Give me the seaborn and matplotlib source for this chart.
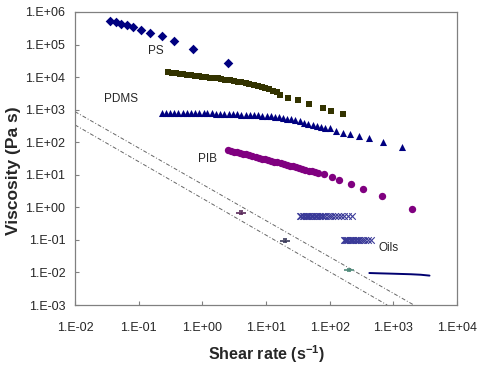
import matplotlib
matplotlib.use("Agg")
import matplotlib.pyplot as plt
import matplotlib.ticker as mticker
import seaborn as sns
import numpy as np

# ---------------- data ----------------
ps_x = [0.0355, 0.0436, 0.0527, 0.0648, 0.0824, 0.109, 0.151, 0.230, 0.363, 0.722, 2.50]
ps_y = [541000, 483000, 429000, 399000, 339000, 280000, 231000, 183000, 129000, 74800, 27700]

pdms_hi_x = [0.29, 0.33, 0.38, 0.44, 0.50, 0.58, 0.67, 0.77, 0.89, 1.0, 1.15, 1.3, 1.5,
             1.75, 2.0, 2.3, 2.7, 3.1, 3.6, 4.1, 4.8, 5.5, 6.4, 7.4, 8.5, 9.8, 11.3,
             13.0, 15.0, 16.6, 22.4, 31.5, 47.9, 79.4, 104, 160]
pdms_hi_y = [14000, 13500, 13000, 12600, 12200, 11800, 11400, 11000, 10600, 10300,
             10000, 9700, 9400, 9100, 8800, 8400, 8000, 7600, 7200, 6900, 6600, 6200,
             5800, 5400, 5000, 4600, 4200, 3800, 3400, 2890, 2340, 1990, 1500, 1130,
             894, 722]

pdms_lo_x = [0.23, 0.27, 0.31, 0.36, 0.42, 0.49, 0.57, 0.66, 0.77, 0.9, 1.05, 1.2, 1.4,
             1.65, 1.9, 2.2, 2.6, 3.0, 3.5, 4.1, 4.8, 5.6, 6.5, 7.6, 8.8, 10.2, 11.9,
             13.8, 16, 18.6, 21.6, 25, 29, 34, 40, 46, 54, 63, 73, 85,
             101, 128, 162, 212, 286, 418, 676, 1370]
pdms_lo_y = [790, 800, 805, 805, 805, 800, 800, 795, 790, 785, 780, 775, 770,
             760, 750, 745, 735, 725, 715, 705, 695, 685, 675, 665, 655, 645, 630,
             610, 585, 560, 530, 500, 470, 435, 400, 370, 345, 320, 300, 282,
             265, 222, 193, 177, 156, 133, 100, 73]

pib_x = [2.5, 2.8, 3.1, 3.5, 3.9, 4.4, 4.9, 5.5, 6.1, 6.9, 7.7, 8.6, 9.6, 10.8, 12.1,
         13.5, 15.1, 16.9, 18.9, 21.2, 23.7, 26.5, 29.7, 33.2, 37.2, 41.6, 46.6, 52.1,
         58.3, 65, 82.4, 108, 142, 214, 337, 656, 1990]
pib_y = [57, 54, 51.5, 49, 46.5, 44, 42, 39.5, 37.5, 35.5, 33.5, 31.5, 30, 28.5, 27,
         25.5, 24, 22.7, 21.5, 20.3, 19.2, 18.1, 17.1, 16.1, 15.2, 14.3, 13.5, 12.7,
         12.0, 11.3, 10.4, 8.77, 6.95, 5.35, 3.76, 2.24, 0.91]

oil1_x = [34, 36, 38, 40, 42, 44, 46, 48, 50, 52.5, 55, 58, 61, 64, 67, 71, 75, 80,
          86, 93, 101, 110, 121, 134, 150, 170, 195, 225]
oil1_y = [0.53] * len(oil1_x)

oil2_x = [165, 172, 180, 188, 196, 205, 214, 224, 235, 247, 260, 275, 292, 312, 335,
          362, 395, 440]
oil2_y = [0.10] * len(oil2_x)

oil3_x = [420, 600, 900, 1300, 1900, 2700, 3700]
oil3_y = [0.0096, 0.0094, 0.0092, 0.0090, 0.0088, 0.0085, 0.0080]

err_x = [4.0, 20.0, 200.0]
err_y = [0.69, 0.095, 0.012]
err_colors = ["#5a2a5a", "#3a3a5a", "#4f8a7a"]

lim1_x = [0.01, 2100]
lim1_y = [870, 0.001]
lim2_x = [0.01, 800]
lim2_y = [340, 0.001]

labels = ["PS", "PDMS", "PIB", "Oils"]
label_x = [0.139, 0.0288, 0.864, 581]
label_y = [6.3e4, 2.16e3, 2.96e1, 5.68e-2]

x_ticks = [1e-2, 1e-1, 1e0, 1e1, 1e2, 1e3, 1e4]
y_ticks = [1e-3, 1e-2, 1e-1, 1e0, 1e1, 1e2, 1e3, 1e4, 1e5, 1e6]

# ---------------- plot ----------------
sns.set_style("white")
plt.rcParams["font.family"] = ["Liberation Sans", "DejaVu Sans"]

fig = plt.figure(figsize=(4.8, 3.67), dpi=100)
ax = fig.add_axes([75 / 480, 1 - 305 / 367, 382 / 480, 293 / 367])

sns.lineplot(x=lim1_x, y=lim1_y, ax=ax, color="#666666", lw=0.7, linestyle=(0, (4, 2, 1, 2)))
sns.lineplot(x=lim2_x, y=lim2_y, ax=ax, color="#666666", lw=0.7, linestyle=(0, (4, 2, 1, 2)))

sns.scatterplot(x=ps_x, y=ps_y, ax=ax, marker="D", s=24, color="#000080", linewidth=0)
sns.scatterplot(x=pdms_hi_x, y=pdms_hi_y, ax=ax, marker="s", s=24, color="#333300", linewidth=0)
sns.scatterplot(x=pdms_lo_x, y=pdms_lo_y, ax=ax, marker="^", s=26, color="#000080", linewidth=0)
sns.scatterplot(x=pib_x, y=pib_y, ax=ax, marker="o", s=28, color="#800080", linewidth=0)
sns.scatterplot(x=oil1_x, y=oil1_y, ax=ax, marker="x", s=22, color="#3a3a98", linewidth=0.8)
sns.scatterplot(x=oil2_x, y=oil2_y, ax=ax, marker="x", s=22, color="#3a3a98", linewidth=0.8)
sns.lineplot(x=oil3_x, y=oil3_y, ax=ax, color="#000070", lw=1.4)

for xv, yv, c in zip(err_x, err_y, err_colors):
    ax.errorbar([xv], [yv], yerr=[[yv * 0.09], [yv * 0.09]], fmt="_", color=c,
                markersize=7, mew=1.2, elinewidth=0.6, capsize=1.5, capthick=0.6)

for t, xv, yv in zip(labels, label_x, label_y):
    ax.text(xv, yv, t, fontsize=8.5, ha="left", va="center")

ax.set_xscale("log")
ax.set_yscale("log")
ax.set_xlim(1e-2, 1e4)
ax.set_ylim(1e-3, 1e6)

def fmt(v, pos):
    e = int(round(np.log10(v)))
    return f"1.E{e:+03d}"

ax.xaxis.set_major_locator(mticker.FixedLocator(x_ticks))
ax.yaxis.set_major_locator(mticker.FixedLocator(y_ticks))
ax.xaxis.set_minor_locator(mticker.NullLocator())
ax.yaxis.set_minor_locator(mticker.NullLocator())
ax.xaxis.set_major_formatter(mticker.FuncFormatter(fmt))
ax.yaxis.set_major_formatter(mticker.FuncFormatter(fmt))
ax.tick_params(axis="both", which="major", direction="in", length=3, width=0.8,
               color="#808080", labelsize=9, top=False, right=False,
               bottom=True, left=True)
ax.tick_params(axis="x", pad=12)
ax.tick_params(axis="y", pad=7)
for sp in ax.spines.values():
    sp.set_color("#808080")
    sp.set_linewidth(0.9)

ax.set_xlabel("Shear rate (s$^{\\mathregular{-1}}$)", fontsize=11.5, fontweight="bold")
ax.set_ylabel("Viscosity (Pa s)", fontsize=12.5, fontweight="bold")
ax.xaxis.set_label_coords(0.5, -0.13)
ax.yaxis.set_label_coords(-0.142, 0.46)

fig.savefig("out.png", dpi=100)
